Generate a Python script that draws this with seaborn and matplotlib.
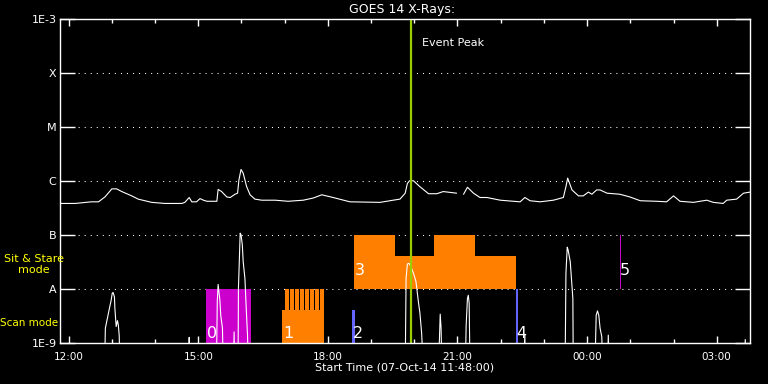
import numpy as np
import pandas as pd
import matplotlib
matplotlib.use("Agg")
import matplotlib.pyplot as plt
import seaborn as sns
from matplotlib.ticker import FixedLocator, NullLocator

# ---------------- data (time in hours from 00:00 07-Oct-14, flux as log10 W/m^2) -------------
t_start = 11.80          # 11:48
t_end = 27.77            # ~03:46 next day
event_peak = 19.93

long_time = [11.80, 12.15, 12.53, 12.69, 12.84, 13.00, 13.11, 13.23, 13.46, 13.61,
             13.92, 14.23, 14.62, 14.69, 14.79, 14.85, 14.96, 15.04, 15.12, 15.20,
             15.43, 15.46, 15.54, 15.66, 15.74, 15.85, 15.91, 15.94, 15.99, 16.04,
             16.12, 16.20, 16.31, 16.47, 16.78, 17.08, 17.43, 17.66, 17.86, 18.12,
             18.51, 19.21, 19.51, 19.67, 19.79, 19.84, 19.89, 19.98, 20.13, 20.33,
             20.52, 20.67, 20.98,
             21.14, 21.23, 21.37, 21.52, 21.68, 21.99, 22.45, 22.56, 22.68,
             22.91, 23.22, 23.45, 23.51, 23.55, 23.65, 23.80, 23.91, 24.03, 24.11,
             24.22, 24.30, 24.46, 24.76, 24.99, 25.23, 25.61, 25.84, 26.00, 26.15,
             26.46, 26.77, 26.92, 27.15, 27.23, 27.46, 27.62, 27.77]
long_log = [-6.41, -6.41, -6.38, -6.38, -6.29, -6.14, -6.14, -6.19, -6.27, -6.33,
            -6.39, -6.41, -6.41, -6.39, -6.30, -6.38, -6.38, -6.32, -6.35, -6.37,
            -6.37, -6.15, -6.19, -6.29, -6.30, -6.24, -6.22, -5.98, -5.78, -5.85,
            -6.10, -6.25, -6.33, -6.35, -6.35, -6.37, -6.35, -6.31, -6.25, -6.30,
            -6.38, -6.39, -6.35, -6.33, -6.22, -6.04, -5.99, -5.99, -6.10, -6.23,
            -6.23, -6.19, -6.22,
            -6.24, -6.11, -6.22, -6.30, -6.30, -6.35, -6.38, -6.30, -6.36,
            -6.38, -6.35, -6.30, -6.10, -5.94, -6.16, -6.27, -6.27, -6.20, -6.24,
            -6.16, -6.16, -6.22, -6.24, -6.29, -6.36, -6.37, -6.38, -6.27, -6.37,
            -6.39, -6.35, -6.39, -6.41, -6.35, -6.33, -6.22, -6.20]
long_gap_after = 21.0    # data gap in the long channel

short_time = [11.80, 12.83, 12.85, 12.96, 12.98, 13.01, 13.03, 13.06, 13.07, 13.10, 13.13, 13.15, 13.17, 13.19,
              14.78, 14.79, 14.80,
              15.42, 15.44, 15.46, 15.50, 15.52, 15.56, 15.58,
              15.81, 15.83, 15.84,
              15.92, 15.93, 15.95, 15.97, 15.99, 16.02, 16.04, 16.08, 16.11, 16.14, 16.16,
              19.79, 19.81, 19.84, 19.88, 19.92, 19.98, 20.04, 20.09, 20.13, 20.17, 20.21,
              20.56, 20.60, 20.62, 20.64,
              21.18, 21.20, 21.23, 21.25, 21.27, 21.29,
              22.52, 22.56, 22.57,
              23.49, 23.51, 23.54, 23.56, 23.61, 23.64, 23.67, 23.68,
              24.18, 24.21, 24.24, 24.27, 24.30, 24.34, 24.36,
              24.47, 24.49, 24.51,
              27.64, 27.66, 27.68, 27.77]
short_log = [-9.5, -9.5, -8.72, -8.29, -8.22, -8.07, -8.06, -8.14, -8.35, -8.69, -8.58, -8.66, -8.85, -9.5,
             -9.5, -8.89, -9.5,
             -9.5, -8.23, -7.91, -8.20, -8.48, -8.72, -9.5,
             -9.5, -8.79, -9.5,
             -9.5, -7.98, -7.48, -6.96, -6.99, -7.18, -7.49, -7.80, -8.35, -8.85, -9.5,
             -9.5, -7.80, -7.53, -7.52, -7.58, -7.70, -7.86, -8.20, -8.44, -8.81, -9.5,
             -9.5, -8.46, -8.72, -9.5,
             -9.5, -8.68, -8.17, -8.11, -8.26, -9.5,
             -9.5, -8.85, -9.5,
             -9.5, -7.70, -7.22, -7.27, -7.49, -7.83, -8.17, -9.5,
             -9.5, -8.48, -8.40, -8.48, -8.72, -8.88, -9.5,
             -9.5, -8.85, -9.5,
             -9.5, -8.93, -9.5, -9.5]

# IRIS observation blocks
block_label = ["0", "1", "2", "3", "4", "5"]
block_start = [15.18, 16.94, 18.56, 18.61, 22.35, 24.75]
block_end = [16.22, 17.91, 18.63, 22.36, 22.41, 24.78]
block_low = [1e-9, 1e-9, 1e-9, 1e-8, 1e-9, 1e-8]
block_high = [1e-8, 4.1e-9, 4.1e-9, 4.17e-8, 1e-8, 1e-7]
block_label_y = [1.55e-9, 1.55e-9, 1.55e-9, 2.19e-8, 1.55e-9, 2.19e-8]

scan_start = [17.01, 17.12, 17.24, 17.36, 17.47, 17.59, 17.70, 17.82]
scan_width = 0.085
scan_low, scan_high = 1e-9, 1e-8

step_start = [18.61, 20.46]
step_end = [19.55, 21.41]
step_low, step_high = 1e-8, 1e-7

ytick_vals = [1e-9, 1e-8, 1e-7, 1e-6, 1e-5, 1e-4, 1e-3]
ytick_text = ["1E-9", "A", "B", "C", "M", "X", "1E-3"]
xtick_vals = [12, 15, 18, 21, 24, 27]
xtick_text = ["12:00", "15:00", "18:00", "21:00", "00:00", "03:00"]

# ---------------- styling -------------
ORANGE = "#FF8000"
MAGENTA = "#CC00CC"
BLUE = "#6464FF"
GREEN = "#9ACD00"
block_colors = [MAGENTA, ORANGE, BLUE, ORANGE, BLUE, MAGENTA]

sns.set_theme(style="dark", rc={
    "figure.facecolor": "black", "axes.facecolor": "black",
    "axes.edgecolor": "white", "axes.linewidth": 1.0,
    "text.color": "white", "xtick.color": "white", "ytick.color": "white",
    "axes.labelcolor": "white", "axes.grid": False,
})
plt.rcParams["font.family"] = ["DejaVu Sans"]

fig = plt.figure(figsize=(7.68, 3.84), dpi=100)
ax = fig.add_axes([60 / 768, (384 - 343.3) / 384, 690 / 768, 324 / 384])
ax.set_facecolor("black")
ax.set_yscale("log")

# observation blocks
bs = np.array(block_start); be = np.array(block_end)
bl = np.array(block_low); bh = np.array(block_high)
ax.bar(bs, bh - bl, width=be - bs, bottom=bl, align="edge",
       color=block_colors, linewidth=0, zorder=1)
ax.bar(scan_start, scan_high - scan_low, width=scan_width, bottom=scan_low,
       align="edge", color=ORANGE, linewidth=0, zorder=1)
ss = np.array(step_start); se = np.array(step_end)
ax.bar(ss, step_high - step_low, width=se - ss, bottom=step_low, align="edge",
       color=ORANGE, linewidth=0, zorder=1)

# GOES curves
long_df = pd.DataFrame({"time": long_time, "flux": 10 ** np.array(long_log)})
long_df["segment"] = (long_df["time"] > long_gap_after).astype(int)
sns.lineplot(data=long_df, x="time", y="flux", units="segment", estimator=None,
             sort=False, color="white", linewidth=0.8, ax=ax, zorder=3)
short_df = pd.DataFrame({"time": short_time, "flux": 10 ** np.array(short_log)})
sns.lineplot(data=short_df, x="time", y="flux", estimator=None, sort=False,
             color="white", linewidth=0.8, ax=ax, zorder=3)

# event peak
ax.axvline(event_peak, color=GREEN, linewidth=1.6, zorder=4)
ax.annotate("Event Peak", xy=(event_peak, 1.0), xycoords=("data", "axes fraction"),
            xytext=(7.5, -17), textcoords="offset points", ha="left", va="center",
            fontsize=8, color="white")

# block numbers
for lab, x0, y0 in zip(block_label, block_start, block_label_y):
    ax.annotate(lab, xy=(x0, y0), xytext=(0.5, 0), textcoords="offset points",
                ha="left", va="center", fontsize=11.5, color="white", zorder=5)

# axes
ax.set_xlim(t_start, t_end)
ax.set_ylim(1e-9, 1e-3)
ax.set_xlabel("")
ax.set_ylabel("")
ax.set_yticks(ytick_vals)
ax.set_yticklabels(ytick_text)
ax.yaxis.set_minor_locator(NullLocator())
ax.set_xticks(xtick_vals)
ax.set_xticklabels(xtick_text)
ax.xaxis.set_minor_locator(FixedLocator([h for h in range(12, 28) if h % 3 != 0]))
ax.grid(True, axis="y", which="major", color="white", linestyle=(0, (1, 4.8)), linewidth=0.75)
ax.grid(False, axis="x")
ax.tick_params(axis="x", which="major", direction="in", length=5, width=1,
               top=True, bottom=True, labelsize=7.5, pad=6, colors="white")
ax.tick_params(axis="x", which="minor", direction="in", length=3, width=1,
               top=True, bottom=True, colors="white")
ax.tick_params(axis="y", which="major", direction="in", length=11, width=1,
               left=True, right=True, labelsize=8, pad=2.5, colors="white")
for sp in ax.spines.values():
    sp.set_color("white")
    sp.set_linewidth(1.0)
    sp.set_zorder(6)

# texts
fig.text(402 / 768, 1 - 10 / 384, "GOES 14 X-Rays:", ha="center", va="center",
         fontsize=9, color="white")
fig.text(405 / 768, 1 - 368 / 384, "Start Time (07-Oct-14 11:48:00)", ha="center",
         va="center", fontsize=8, color="white")
fig.text(34 / 768, 1 - 264.5 / 384, "Sit & Stare\nmode", ha="center", va="center",
         fontsize=8, color="#FFFF00", linespacing=1.05)
fig.text(29 / 768, 1 - 323.5 / 384, "Scan mode", ha="center", va="center",
         fontsize=7.5, color="#FFFF00")

fig.savefig("out.png", dpi=100, facecolor="black")
